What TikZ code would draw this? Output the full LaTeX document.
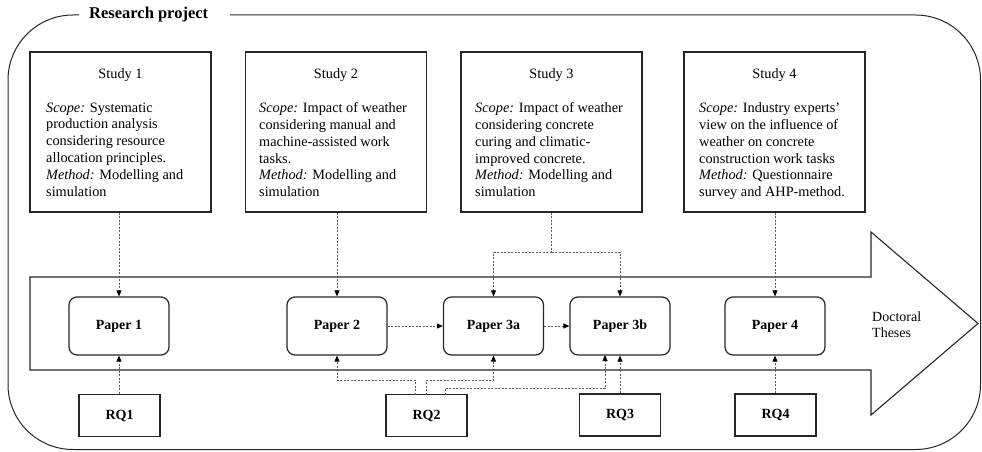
\documentclass[tikz,border=0pt]{standalone}
\usepackage{fontspec}
\setmainfont{Liberation Serif}
\usetikzlibrary{arrows.meta}

\tikzset{
  studybox/.style={draw=black!85, line width=1.2pt, minimum width=181pt, minimum height=160pt, inner sep=0pt},
  studytitle/.style={font=\fontsize{14.3}{16.8}\selectfont, inner sep=0pt},
  studytext/.style={font=\fontsize{14.3}{16.8}\selectfont, align=left, anchor=north west, inner sep=0pt},
  paper/.style={draw=black!85, line width=1.2pt, rounded corners=8pt, minimum width=100pt, minimum height=58pt,
    font=\fontsize{14}{16}\selectfont\bfseries, inner sep=0pt},
  rq/.style={draw=black!85, line width=1.3pt, minimum width=81pt, minimum height=42pt,
    font=\fontsize{14}{16}\selectfont\bfseries, inner sep=0pt},
  link/.style={draw=black!65, line width=0.8pt, dash pattern=on 2pt off 1.5pt,
    -{Triangle[length=6pt,width=5pt,color=black]}},
  plainlink/.style={draw=black!65, line width=0.8pt, dash pattern=on 2pt off 1.5pt}
}

\begin{document}
\begin{tikzpicture}[x=1pt, y=-1pt]
  \useasboundingbox (0,0) rectangle (982,452);

  % outer frame of the project, broken by its title
  \draw[black!85, line width=1pt, rounded corners=65pt]
    (230,15) -- (980.5,15) -- (980.5,449.5) -- (8,449.5) -- (8,15) -- (79,15);
  \node[anchor=west, inner sep=0pt, font=\fontsize{16.5}{18}\selectfont\bfseries] (title) at (89,15) {Research project};

  % big arrow towards the theses
  \draw[black!85, line width=1.1pt]
    (30,277) -- (871,277) -- (871,232) -- (978,323.5) -- (871,415) -- (871,370) -- (30,370) -- cycle;
  \node[anchor=west, align=left, inner sep=0pt, font=\fontsize{14}{16}\selectfont] (theses) at (872,324.5) {Doctoral\\Theses};

  % studies
  \node[studybox] (S1) at (120.5,132) {};
  \node[studybox] (S2) at (336,132) {};
  \node[studybox] (S3) at (551.5,132) {};
  \node[studybox] (S4) at (774.5,132) {};

  \node[studytitle] (S1t) at (120.5,75) {Study 1};
  \node[studytitle] (S2t) at (336,75) {Study 2};
  \node[studytitle] (S3t) at (551.5,75) {Study 3};
  \node[studytitle] (S4t) at (774.5,75) {Study 4};

  \node[studytext] (S1x) at (46,102.5) {\textit{Scope:} Systematic\\production analysis\\considering resource\\allocation principles.\\\textit{Method:} Modelling and\\simulation};
  \node[studytext] (S2x) at (259,102.5) {\textit{Scope:} Impact of weather\\considering manual and\\machine-assisted work\\tasks.\\\textit{Method:} Modelling and\\simulation};
  \node[studytext] (S3x) at (475,102.5) {\textit{Scope:} Impact of weather\\considering concrete\\curing and climatic-\\improved concrete.\\\textit{Method:} Modelling and\\simulation};
  \node[studytext] (S4x) at (699,102.5) {\textit{Scope:} Industry experts'\\view on the influence of\\weather on concrete\\construction work tasks\\\textit{Method:} Questionnaire\\survey and AHP-method.};

  % papers
  \node[paper] (P1) at (119,326) {Paper 1};
  \node[paper] (P2) at (337,326) {Paper 2};
  \node[paper] (P3a) at (493.5,326) {Paper 3a};
  \node[paper] (P3b) at (620,326) {Paper 3b};
  \node[paper] (P4) at (775,326) {Paper 4};

  % research questions
  \node[rq] (RQ1) at (119.5,415.5) {RQ1};
  \node[rq] (RQ2) at (426.5,415.5) {RQ2};
  \node[rq] (RQ3) at (620,415) {RQ3};
  \node[rq] (RQ4) at (775.5,415) {RQ4};

  % studies feeding the papers
  \draw[link] (P1.north |- S1.south) -- (P1.north);
  \draw[link] (P2.north |- S2.south) -- (P2.north);
  \draw[link] (P4.north |- S4.south) -- (P4.north);
  \coordinate (fork) at (551.5,252);
  \draw[plainlink] (S3.south) -- (fork);
  \draw[link] (fork) -| (P3a.north);
  \draw[link] (fork) -| (P3b.north);

  % sequence of papers
  \draw[link] (P2.east) -- (P3a.west);
  \draw[link] (P3a.east) -- (P3b.west);

  % research questions addressed by the papers
  \draw[link] (RQ1.north -| P1.south) -- (P1.south);
  \coordinate (q2a) at (415,394.5);
  \coordinate (q2b) at (426.5,394.5);
  \coordinate (q2c) at (445,394.5);
  \coordinate (p3bin) at (605,355);
  \draw[link] (q2a) -- (q2a |- 0,380) -| (P2.south);
  \draw[link] (q2b) -- (q2b |- 0,380) -| (P3a.south);
  \draw[link] (q2c) -- (q2c |- 0,388) -| (p3bin);
  \draw[link] (RQ3.north) -- (P3b.south);
  \draw[link] (RQ4.north -| P4.south) -- (P4.south);
\end{tikzpicture}
\end{document}
